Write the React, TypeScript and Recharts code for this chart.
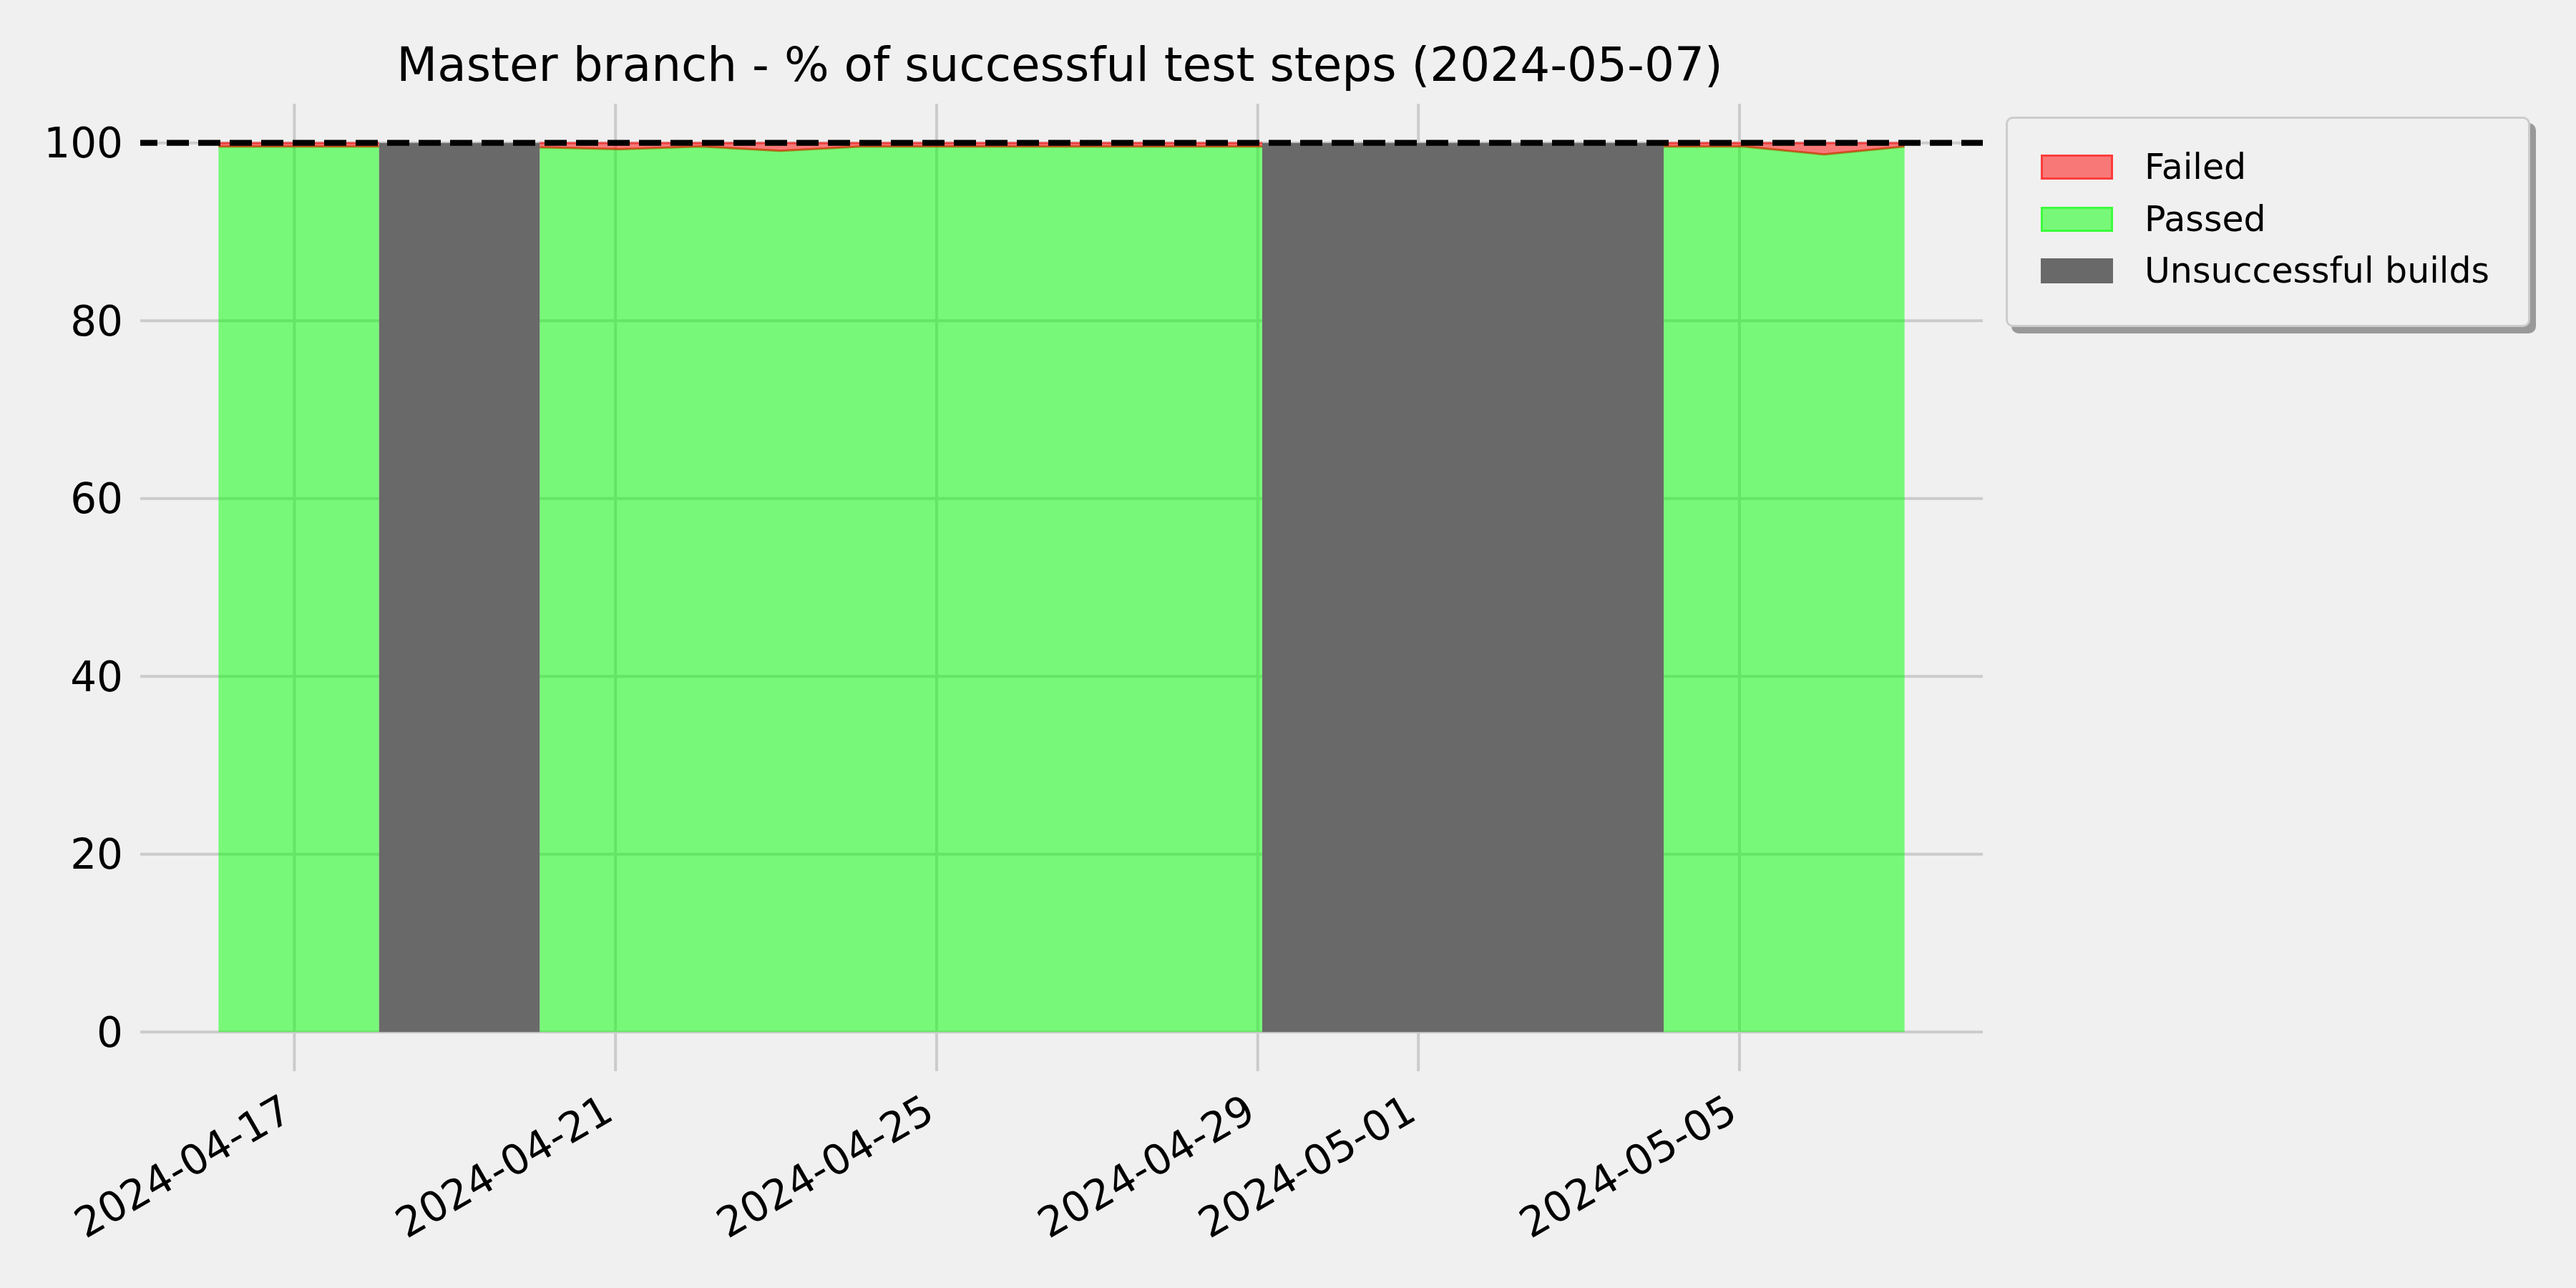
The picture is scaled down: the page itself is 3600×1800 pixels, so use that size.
import React from 'react';
import {
  ComposedChart,
  Area,
  XAxis,
  YAxis,
  CartesianGrid,
  ReferenceLine,
  Legend,
} from 'recharts';

// one build per day (timestamps of the nightly run)
const BUILD_DATES = [
  '2024-04-16T01:20', '2024-04-17T01:20', '2024-04-18T01:20', '2024-04-19T01:20',
  '2024-04-20T01:20', '2024-04-21T01:20', '2024-04-22T01:20', '2024-04-23T01:20',
  '2024-04-24T01:20', '2024-04-25T01:20', '2024-04-26T01:20', '2024-04-27T01:20',
  '2024-04-28T01:20', '2024-04-29T01:20', '2024-04-30T01:20', '2024-05-01T01:20',
  '2024-05-02T01:20', '2024-05-03T01:20', '2024-05-04T01:20', '2024-05-05T01:20',
  '2024-05-06T01:20', '2024-05-07T01:20',
];

// % of passed test steps (null = no test results)
const PASSED_PCT = [
  99.6, 99.6, 99.6, null, 99.5, 99.3, 99.6, 99.1, 99.6, 99.6, 99.6,
  99.6, 99.6, 99.6, null, null, null, null, 99.6, 99.6, 98.7, 99.6,
];

// 1 = build failed (no tests ran)
const UNSUCCESSFUL = [
  0, 0, 1, 1, 1, 0, 0, 0, 0, 0, 0,
  0, 0, 1, 1, 1, 1, 1, 1, 0, 0, 0,
];

const TICK_LABELS = ['2024-04-17', '2024-04-21', '2024-04-25', '2024-04-29', '2024-05-01', '2024-05-05'];
const Y_TICKS = [0, 20, 40, 60, 80, 100];

const TITLE = 'Master branch - % of successful test steps (2024-05-07)';
const FONT = '"DejaVu Sans", sans-serif';
const BG = '#f0f0f0';

const ORIGIN = Date.parse('2024-04-16T00:00Z');
const toDays = (s: string) => (Date.parse(s + (s.length > 10 ? 'Z' : 'T00:00Z')) - ORIGIN) / 86400000;

const data = BUILD_DATES.map((d, i) => ({
  x: toDays(d),
  passed: PASSED_PCT[i],
  failed: PASSED_PCT[i] == null ? null : [PASSED_PCT[i], 100],
  unsuccessful: UNSUCCESSFUL[i] ? 100 : null,
}));

const xTicks = TICK_LABELS.map(toDays);
const xMin = data[0].x - 0.975;
const xMax = data[data.length - 1].x + 0.975;

const LEGEND_ITEMS = [
  { name: 'Failed', fill: 'rgba(255,0,0,0.5)', border: 'rgba(255,0,0,0.5)' },
  { name: 'Passed', fill: 'rgba(0,255,0,0.5)', border: 'rgba(0,255,0,0.5)' },
  { name: 'Unsuccessful builds', fill: '#696969', border: '#696969' },
];

const XTick = (props: any) => {
  const { x, y, payload } = props;
  const idx = xTicks.findIndex(t => Math.abs(t - payload.value) < 1e-6);
  const tx = x;
  const ty = y + 66;
  return (
    <text
      x={tx}
      y={ty}
      transform={`rotate(-30, ${tx}, ${ty})`}
      textAnchor="end"
      fontSize={58}
      fontFamily={FONT}
      fill="#000"
    >
      {TICK_LABELS[idx]}
    </text>
  );
};

const LegendBox = () => (
  <div
    style={{
      boxSizing: 'border-box',
      width: 733,
      height: 294,
      border: '3px solid #cccccc',
      borderRadius: 10,
      background: BG,
      boxShadow: '8px 9px 0 #999999',
      paddingTop: 50,
      paddingLeft: 46,
      fontFamily: FONT,
      fontSize: 49,
      color: '#000',
    }}
  >
    {LEGEND_ITEMS.map(item => (
      <div key={item.name} style={{ display: 'flex', alignItems: 'center', height: 35, marginBottom: 37.5 }}>
        <div
          style={{
            boxSizing: 'border-box',
            width: 101,
            height: 35,
            background: item.fill,
            border: `3px solid ${item.border}`,
            marginRight: 44,
          }}
        />
        <span style={{ lineHeight: '35px', whiteSpace: 'nowrap' }}>{item.name}</span>
      </div>
    ))}
  </div>
);

export default function App() {
  return (
    <div style={{ position: 'absolute', left: 0, top: 0, width: 3600, height: 1800, background: BG }}>
      <ComposedChart
        width={3600}
        height={1800}
        data={data}
        margin={{ top: 145, right: 829, bottom: 0, left: 0 }}
        style={{ fontFamily: FONT }}
      >
        <CartesianGrid stroke="#cbcbcb" strokeWidth={4} syncWithTicks />
        <XAxis
          dataKey="x"
          type="number"
          domain={[xMin, xMax]}
          ticks={xTicks}
          allowDataOverflow
          axisLine={false}
          tickLine={false}
          tickSize={0}
          tickMargin={0}
          height={303}
          interval={0}
          tick={<XTick />}
        />
        <YAxis
          type="number"
          domain={[-4.4, 104.4]}
          ticks={Y_TICKS}
          allowDataOverflow
          axisLine={false}
          tickLine={false}
          tickSize={0}
          tickMargin={24}
          width={196}
          interval={0}
          tick={{ fontSize: 58, fill: '#000', fontFamily: FONT }}
        />
        <Area
          type="linear"
          dataKey="passed"
          name="Passed"
          baseValue={0}
          fill="#00ff00"
          fillOpacity={0.5}
          stroke="#00ff00"
          strokeOpacity={0.5}
          strokeWidth={3}
          isAnimationActive={false}
        />
        <Area
          type="linear"
          dataKey="failed"
          name="Failed"
          fill="#ff0000"
          fillOpacity={0.5}
          stroke="#ff0000"
          strokeOpacity={0.5}
          strokeWidth={3}
          isAnimationActive={false}
        />
        <Area
          type="linear"
          dataKey="unsuccessful"
          name="Unsuccessful builds"
          baseValue={0}
          fill="#696969"
          fillOpacity={1}
          stroke="none"
          isAnimationActive={false}
        />
        <ReferenceLine
          y={100}
          stroke="#000000"
          strokeWidth={8.3}
          strokeDasharray="31 13"
          strokeDashoffset={7}
        />
        <Legend
          layout="vertical"
          align="center"
          verticalAlign="middle"
          content={() => <LegendBox />}
          wrapperStyle={{ left: 2803, top: 163, width: 733, height: 294, margin: 0 }}
        />
        <text
          x={1481}
          y={113}
          textAnchor="middle"
          fontSize={66}
          fontFamily={FONT}
          fill="#000"
        >
          {TITLE}
        </text>
      </ComposedChart>
    </div>
  );
}
